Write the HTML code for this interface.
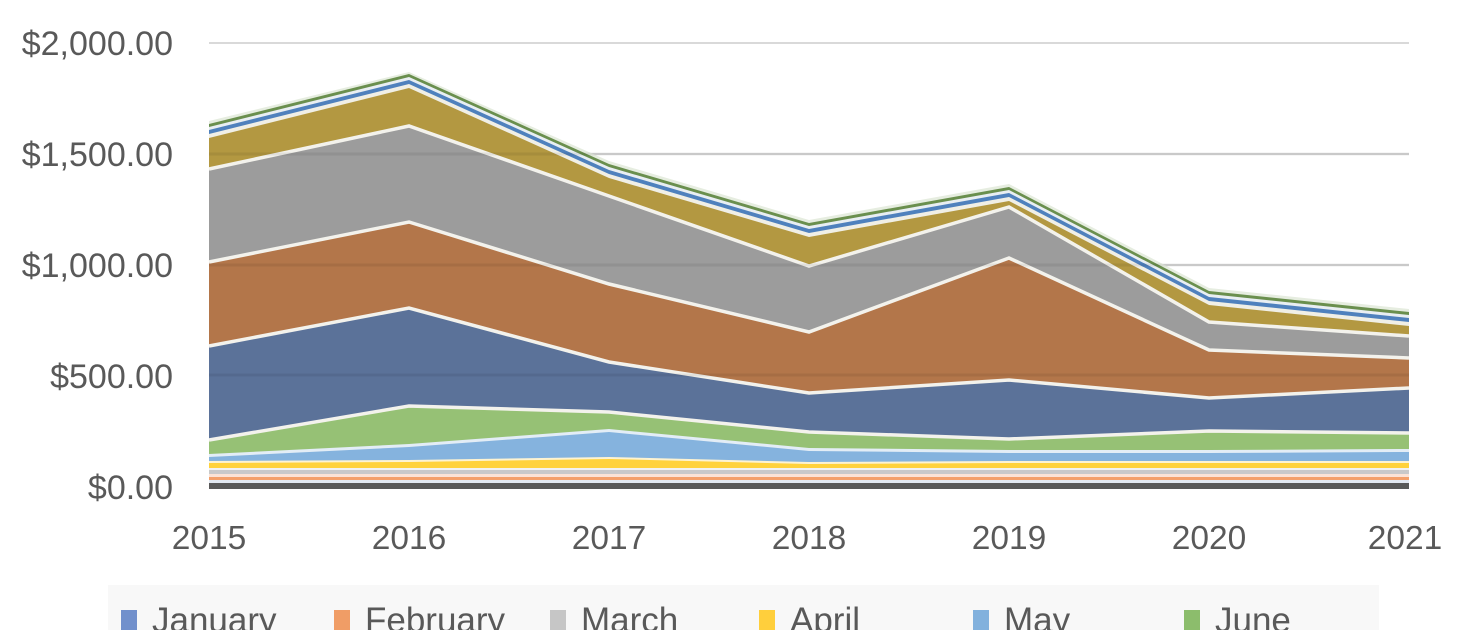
<!DOCTYPE html><html><head><style>body{margin:0;background:#fff}svg{display:block}</style></head><body>
<svg width="1479" height="630" xmlns="http://www.w3.org/2000/svg" font-family="Liberation Sans, sans-serif">
<rect width="1479" height="630" fill="#fff"/>
<g stroke="#d9d9d9" stroke-width="2"><line x1="209" x2="1409" y1="43" y2="43"/><line x1="209" x2="1409" y1="154" y2="154"/><line x1="209" x2="1409" y1="265" y2="265"/><line x1="209" x2="1409" y1="375" y2="375"/></g>
<polygon fill="#e6ede0" points="209,121 409,72 609,161 809,220 1009,184 1209,288 1409,309 1409,489 209,489"/>
<polygon fill="#6a8f4e" points="209,124 409,74 609,164 809,223 1009,187 1209,291 1409,312 1409,489 209,489"/>
<polygon fill="#e8eef2" points="209,127 409,77 609,167 809,226 1009,190 1209,294 1409,315 1409,489 209,489"/>
<polygon fill="#4f81bd" points="209,130 409,80 609,170 809,229 1009,193 1209,297 1409,318 1409,489 209,489"/>
<polygon fill="#f0efe6" points="209,134 409,84 609,174 809,233 1009,197 1209,301 1409,322 1409,489 209,489"/>
<polygon fill="#b39841" points="209,138 409,88 609,178 809,237 1009,201 1209,305 1409,326 1409,489 209,489"/>
<polygon fill="#9c9c9c" points="209,169 409,126 609,196 809,266 1009,207 1209,322 1409,336 1409,489 209,489"/>
<polygon fill="#b3764a" points="209,262 409,222 609,284 809,332 1009,258 1209,350 1409,358 1409,489 209,489"/>
<polygon fill="#5b7299" points="209,346 409,308 609,362 809,393 1009,380 1209,398 1409,388 1409,489 209,489"/>
<polygon fill="#96c175" points="209,440 409,406 609,412 809,432 1009,439 1209,431 1409,433 1409,489 209,489"/>
<polygon fill="#e3edf6" points="209,454 409,444 609,429 809,448 1009,450 1209,450 1409,449 1409,489 209,489"/>
<polygon fill="#85b3de" points="209,457 409,447 609,432 809,451 1009,453 1209,453 1409,452 1409,489 209,489"/>
<polygon fill="#fdf3d2" points="209,461 409,460 609,457 809,462 1009,461 1209,461 1409,461 1409,489 209,489"/>
<polygon fill="#ffd23c" points="209,463 409,462 609,459 809,464 1009,463 1209,463 1409,463 1409,489 209,489"/>
<rect x="209" y="468" width="1200" height="21" fill="#f2f2f2"/>
<rect x="209" y="470" width="1200" height="19" fill="#c9c9c9"/>
<rect x="209" y="474" width="1200" height="15" fill="#fbe3d6"/>
<rect x="209" y="477" width="1200" height="12" fill="#f4a06a"/>
<rect x="209" y="480" width="1200" height="9" fill="#e3e9f2"/>
<rect x="209" y="483" width="1200" height="6" fill="#595959"/>
<g fill="none" stroke="#f3f2ec" stroke-width="3.5">
<polyline points="209,169 409,126 609,196 809,266 1009,207 1209,322 1409,336"/>
<polyline points="209,262 409,222 609,284 809,332 1009,258 1209,350 1409,358"/>
<polyline points="209,346 409,308 609,362 809,393 1009,380 1209,398 1409,388"/>
<polyline points="209,440 409,406 609,412 809,432 1009,439 1209,431 1409,433"/>
</g>
<g stroke="rgba(0,0,0,0.07)" stroke-width="3"><line x1="209" x2="1409" y1="154" y2="154"/><line x1="209" x2="1409" y1="265" y2="265"/><line x1="209" x2="1409" y1="375" y2="375"/></g>
<g fill="#595959" font-size="34" text-anchor="end">
<text x="173" y="55">$2,000.00</text><text x="173" y="166">$1,500.00</text><text x="173" y="277">$1,000.00</text><text x="173" y="388">$500.00</text><text x="173" y="499">$0.00</text></g>
<g fill="#595959" font-size="33.5" text-anchor="middle">
<text x="209" y="549">2015</text><text x="409" y="549">2016</text><text x="609" y="549">2017</text><text x="809" y="549">2018</text><text x="1009" y="549">2019</text><text x="1209" y="549">2020</text><text x="1405" y="549">2021</text></g>
<rect x="108" y="585" width="1271" height="45" fill="#f8f8f8"/>
<g font-size="35" fill="#595959">
<rect x="121" y="610" width="16" height="20" fill="#7190cc"/><text x="152" y="632">January</text>
<rect x="334" y="610" width="16" height="20" fill="#f09d66"/><text x="365" y="632">February</text>
<rect x="550" y="610" width="16" height="20" fill="#c6c6c6"/><text x="581" y="632">March</text>
<rect x="759" y="610" width="16" height="20" fill="#ffcf3c"/><text x="790" y="632">April</text>
<rect x="973" y="610" width="16" height="20" fill="#82b1dd"/><text x="1004" y="632">May</text>
<rect x="1184" y="610" width="16" height="20" fill="#8cbd6c"/><text x="1215" y="632">June</text>
</g>
</svg></body></html>
